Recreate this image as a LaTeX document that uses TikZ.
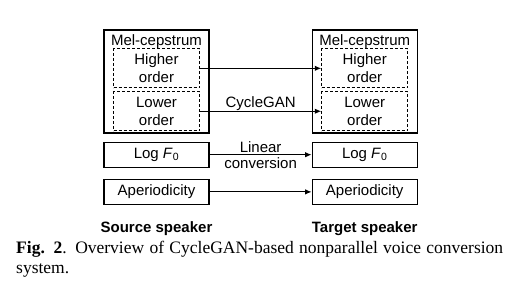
\documentclass[tikz,border=0pt]{standalone}
\usepackage{fontspec}
\setmainfont{Liberation Serif}
\setsansfont{Liberation Sans}
\usetikzlibrary{arrows.meta, positioning, calc}
\tikzset{
  font=\sffamily\fontsize{15}{17.5}\selectfont,
  melblock/.style={
    rectangle, draw=black, line width=1.2pt,
    minimum width=105pt, minimum height=103pt
  },
  orderblock/.style={
    rectangle, draw=black, line width=0.9pt, dash pattern=on 3pt off 2pt,
    minimum width=86pt, minimum height=39pt, align=center, inner sep=0pt
  },
  featblock/.style={
    rectangle, draw=black, line width=1.2pt,
    minimum width=105pt, minimum height=25pt, inner sep=0pt
  },
  speakerlabel/.style={
    font=\sffamily\bfseries\fontsize{15}{17.5}\selectfont, inner sep=0pt
  },
  flowline/.style={
    draw=black, -{Latex[length=6.5pt, width=5.5pt]}, line width=1.1pt
  }
}
\begin{document}
\begin{tikzpicture}[x=1pt, y=1pt]
  \useasboundingbox (0,0) rectangle (515,-289);

  % Source speaker column
  \node[melblock] (srcmel) at (156.5,-81.5) {};
  \node[below=5pt of srcmel.north, inner sep=0pt] (srcmeltitle) {Mel-cepstrum};
  \node[orderblock, below=19pt of srcmel.north] (srchigh) {Higher\\order};
  \node[orderblock, below=3pt of srchigh] (srclow) {Lower\\order};
  \node[featblock, below=8pt of srcmel] (srcf0) {Log \textit{F}\textsubscript{0}};
  \node[featblock, below=11pt of srcf0] (srcap) {Aperiodicity};
  \node[speakerlabel, below=16pt of srcap] (srcspk) {Source speaker};

  % Target speaker column
  \node[melblock, right=102pt of srcmel] (tgtmel) {};
  \node[below=5pt of tgtmel.north, inner sep=0pt] (tgtmeltitle) {Mel-cepstrum};
  \node[orderblock, below=19pt of tgtmel.north] (tgthigh) {Higher\\order};
  \node[orderblock, below=3pt of tgthigh] (tgtlow) {Lower\\order};
  \node[featblock, below=8pt of tgtmel] (tgtf0) {Log \textit{F}\textsubscript{0}};
  \node[featblock, below=11pt of tgtf0] (tgtap) {Aperiodicity};
  \node[speakerlabel, below=16pt of tgtap] (tgtspk) {Target speaker};

  % Conversion flows
  \draw[flowline] (srchigh.east) -- (tgthigh.west);
  \draw[flowline] (srclow.east) -- node[above, inner sep=0.5pt] {CycleGAN} (tgtlow.west);
  \draw[flowline] (srcf0) -- node[align=center, inner sep=0pt, font=\sffamily\fontsize{15}{16}\selectfont] {Linear\\conversion} (tgtf0);
  \draw[flowline] (srcap) -- (tgtap);

  % Caption
  \node[anchor=north west, text width=487pt, align=justify, inner sep=0pt, font=\rmfamily\fontsize{17.5}{20}\selectfont] (caption) at (16,-241) {\textbf{Fig. 2}. Overview of CycleGAN-based nonparallel voice conversion system.};
\end{tikzpicture}
\end{document}
